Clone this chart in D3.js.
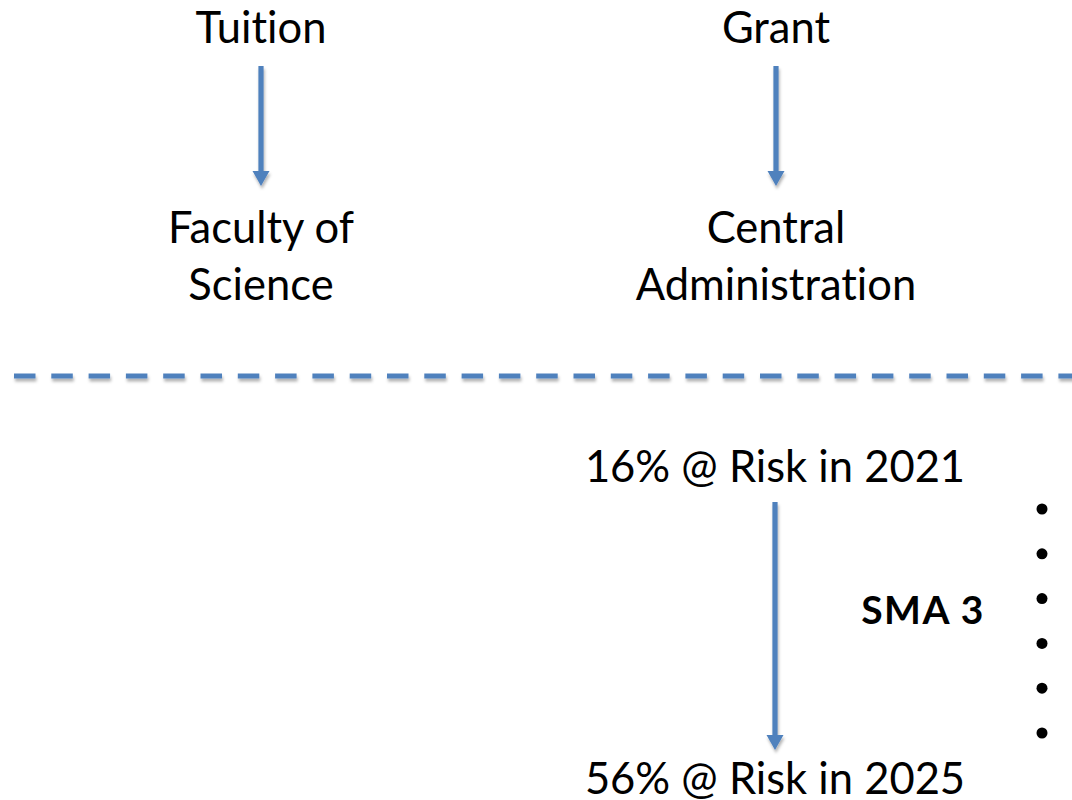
<!DOCTYPE html>
<html><head><meta charset="utf-8">
<script src="https://cdn.jsdelivr.net/npm/d3@7/dist/d3.min.js"></script>
<style>html,body{margin:0;padding:0;background:#fff;overflow:hidden} text{font-variant-ligatures:none;font-feature-settings:"liga" 0}</style>
</head><body>
<svg id="c" width="1072" height="800"></svg>
<script>
// ---- data ----
const sources = ["Tuition", "Grant"];
const targets = [["Faculty of", "Science"], ["Central", "Administration"]];
const riskPct = [16, 56];
const riskYears = [2021, 2025];
const agreementLabel = "SMA 3";
const bulletItems = ["", "", "", "", "", ""];

// ---- layout ----
const W = 1072, H = 800;
const blue = "#4F81BD";
const font = "Lato, 'Open Sans', sans-serif";
const fs = 43.5;
const svg = d3.select("#c");

const defs = svg.append("defs");
const f = defs.append("filter").attr("id", "sh").attr("filterUnits", "userSpaceOnUse")
  .attr("x", 0).attr("y", 0).attr("width", W).attr("height", H);
f.append("feDropShadow").attr("dx", 1).attr("dy", 3).attr("stdDeviation", 1.6).attr("flood-color", "#000").attr("flood-opacity", 0.3);

const x = d3.scalePoint().domain(sources).range([261, 776]);
const y = d3.scaleLinear().domain([0, 800]).range([0, 800]);

function arrow(cx, y0, y1) {
  const g = svg.append("g").attr("filter", "url(#sh)");
  const headH = 15, headW = 8.5, sw = 2.6;
  g.append("path").attr("fill", blue)
    .attr("d", `M${cx - sw},${y0} L${cx + sw},${y0} L${cx + sw},${y1 - headH} L${cx + headW},${y1 - headH} L${cx},${y1} L${cx - headW},${y1 - headH} L${cx - sw},${y1 - headH} Z`);
}

function label(cx, yy, t) {
  svg.append("text").attr("x", cx).attr("y", yy).attr("text-anchor", "middle")
    .attr("font-family", font).attr("font-size", fs).attr("fill", "#000").text(t);
}

// top: sources -> targets
sources.forEach((s, i) => {
  const cx = x(s);
  label(cx, y(43), s);
  arrow(cx, y(66), y(186));
  targets[i].forEach((t, j) => label(cx, y(243 + j * 57), t));
});

// dashed separator
svg.append("g").attr("filter", "url(#sh)")
  .append("line").attr("x1", 14).attr("x2", W + 20).attr("y1", y(376)).attr("y2", y(376))
  .attr("stroke", blue).attr("stroke-width", 5).attr("stroke-dasharray", "21.5 15.8");

// risk progression
const cx2 = x("Grant") - 1;
label(cx2, y(482), `${riskPct[0]}% @ Risk in ${riskYears[0]}`);
arrow(cx2, y(502), y(750));
label(cx2, y(794), `${riskPct[1]}% @ Risk in ${riskYears[1]}`);

// SMA 3 label
svg.append("text").attr("x", 923).attr("y", y(624)).attr("text-anchor", "middle")
  .attr("font-family", font).attr("font-size", 39).attr("font-weight", "bold")
  .attr("letter-spacing", 1.5).attr("fill", "#000")
  .text(agreementLabel);

// bullets
const by = d3.scalePoint().domain(d3.range(bulletItems.length)).range([509, 733]);
svg.selectAll("circle.b").data(bulletItems).join("circle").attr("class", "b")
  .attr("cx", 1042).attr("cy", (d, i) => by(i)).attr("r", 5.5).attr("fill", "#000");
</script>
</body></html>
